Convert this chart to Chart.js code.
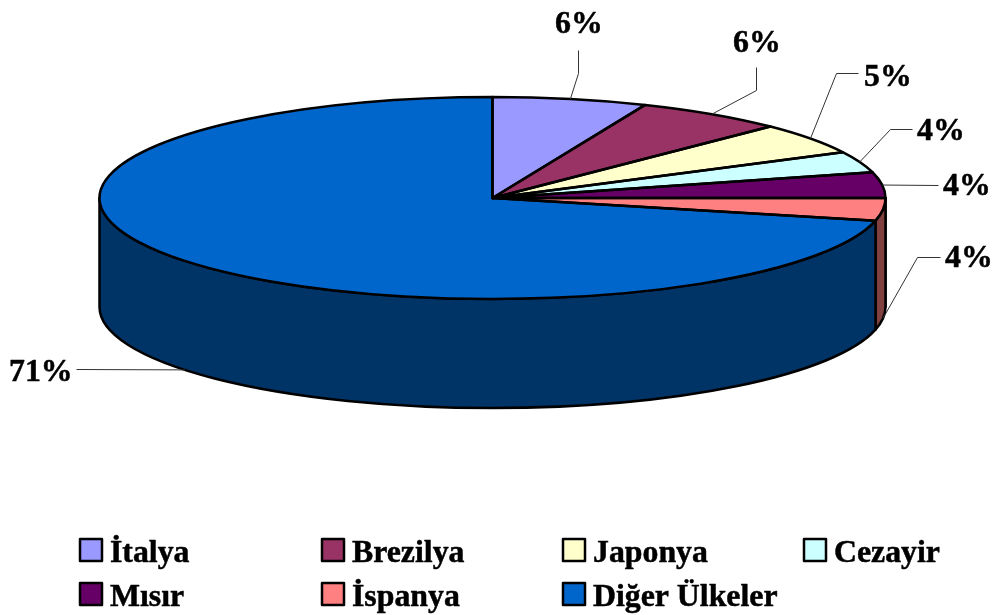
<!DOCTYPE html>
<html><head><meta charset="utf-8">
<style>html,body{margin:0;padding:0;background:#fff}canvas{display:block}</style>
<script src="https://cdn.jsdelivr.net/npm/chart.js@4"></script>
</head><body>
<canvas id="c" width="995" height="615"></canvas>
<script>
const categories = ['İtalya','Brezilya','Japonya','Cezayir','Mısır','İspanya','Diğer Ülkeler'];
const shares = [6.35,6.15,5.0,3.4,4.1,3.6,71.4];
const shareLabels = ['6%','6%','5%','4%','4%','4%','71%'];
const colors = ['#9999FF','#993366','#FFFFCC','#CCFFFF','#660066','#FF8080','#0066CC'];
const wallColors = ['#4C4C80','#4C1933','#808066','#668080','#330033','#804040','#003366'];

const view = {cx:492.5, cy:198, rx:393, ry:101, depth:109};
const outline = 2.5;
const font = 'bold 31.8px "Liberation Serif"';
// label callouts: elbow points and text anchor (left x, baseline y)
const callouts = [
  {pts:[[578,73],[578,50]], text:[555,33]},
  {pts:[[756,90],[756,67]], text:[733,52]},
  {pts:[[836,73],[858,73]], text:[864,86]},
  {pts:[[890,129],[912,129]], text:[917,140]},
  {pts:[[938,185]], text:[943,195]},
  {pts:[[917,257],[940,257]], text:[945,267]},
  {pts:[[76,369]], text:[9,381]}
];
const legendCols = [80,322,563,804], legendRows = [539,583], legendBox = 22, legendGap = 30;

const disc = {
  id:'disc',
  beforeDatasetsDraw(chart){
    const ctx = chart.ctx, arcs = chart.getDatasetMeta(0).data;
    const {x,y,outerRadius:r} = arcs[0];
    const {cx,cy,rx,ry,depth} = view;
    ctx.save();
    arcs.forEach((a,i)=>{
      const s = Math.max(a.startAngle,0), e = Math.min(a.endAngle,Math.PI);
      if(e<=s) return;
      ctx.beginPath();
      ctx.ellipse(cx,cy,rx,ry,0,s,e);
      ctx.ellipse(cx,cy+depth,rx,ry,0,e,s,true);
      ctx.closePath();
      ctx.fillStyle = wallColors[i];
      ctx.fill();
      ctx.lineWidth = outline; ctx.strokeStyle='#000'; ctx.lineJoin='round';
      ctx.stroke();
    });
    ctx.restore();
    ctx.save();
    ctx.translate(cx,cy); ctx.scale(rx/r,ry/r); ctx.translate(-x,-y);
  },
  afterDatasetsDraw(chart){
    const ctx = chart.ctx, arcs = chart.getDatasetMeta(0).data;
    ctx.restore();
    const {cx,cy,rx,ry,depth} = view;
    ctx.save();
    ctx.lineWidth = outline; ctx.strokeStyle='#000'; ctx.lineJoin='round';
    arcs.forEach(a=>{
      ctx.beginPath();
      ctx.moveTo(cx,cy);
      ctx.ellipse(cx,cy,rx,ry,0,a.startAngle,a.endAngle);
      ctx.closePath();
      ctx.stroke();
    });
    ctx.lineWidth = 1; ctx.strokeStyle='#333';
    arcs.forEach((a,i)=>{
      const m = (a.startAngle+a.endAngle)/2;
      const ax = cx+rx*Math.cos(m);
      const ay = cy+ry*Math.sin(m)+(Math.sin(m)>0?depth:0);
      ctx.beginPath();
      ctx.moveTo(ax,ay);
      callouts[i].pts.forEach(p=>ctx.lineTo(p[0]+.5,p[1]+.5));
      ctx.stroke();
    });
    ctx.fillStyle='#000'; ctx.font=font; ctx.textAlign='left'; ctx.textBaseline='alphabetic';
    ctx.strokeStyle='#000'; ctx.lineJoin='round';
    const put = (t,px,py)=>{ ctx.lineWidth=.5; ctx.strokeText(t,px,py); ctx.fillText(t,px,py); };
    shareLabels.forEach((t,i)=>put(t,callouts[i].text[0],callouts[i].text[1]));
    categories.forEach((name,i)=>{
      const bx = legendCols[i%4], by = legendRows[Math.floor(i/4)];
      ctx.fillStyle = colors[i];
      ctx.fillRect(bx,by,legendBox,legendBox);
      ctx.lineWidth = 2.5;
      ctx.strokeRect(bx,by,legendBox,legendBox);
      ctx.fillStyle='#000';
      put(name,bx+legendGap,by+legendBox+1);
    });
    ctx.restore();
  }
};

new Chart(document.getElementById('c'),{
  type:'pie',
  data:{labels:categories,datasets:[{data:shares,backgroundColor:colors,borderWidth:0,clip:false}]},
  options:{
    responsive:false,animation:false,
    layout:{padding:20},
    plugins:{legend:{display:false},tooltip:{enabled:false}}
  },
  plugins:[disc]
});
</script>
</body></html>
